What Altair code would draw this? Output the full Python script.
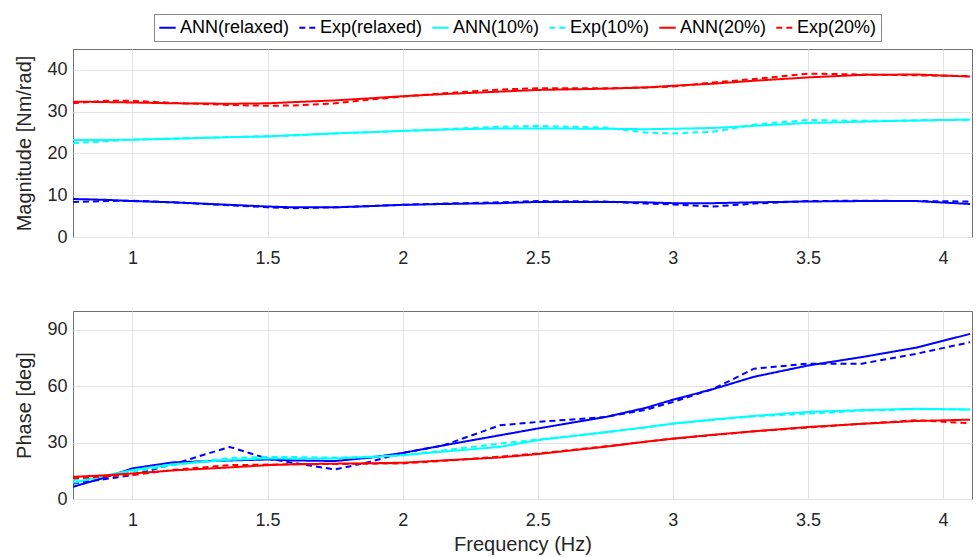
import altair as alt
import pandas as pd

freq = [0.78, 0.9, 1.0, 1.15, 1.36, 1.5, 1.6, 1.75, 1.88, 2.0, 2.15, 2.36, 2.5,
        2.75, 2.9, 3.0, 3.15, 3.3, 3.5, 3.7, 3.9, 4.1]
series_names = ["ANN(relaxed)", "Exp(relaxed)", "ANN(10%)", "Exp(10%)", "ANN(20%)", "Exp(20%)"]

# Magnitude [Nm/rad]
mag_ann_relaxed = [9.1, 8.9, 8.6, 8.3, 7.7, 7.3, 7.1, 7.1, 7.4, 7.7, 7.9, 8.1, 8.4,
                   8.4, 8.3, 8.1, 8.1, 8.3, 8.5, 8.6, 8.6, 7.9]
mag_exp_relaxed = [8.4, 8.6, 8.7, 8.3, 7.6, 7.1, 6.9, 7.1, 7.4, 7.7, 8.0, 8.3, 8.6,
                   8.5, 8.0, 7.8, 7.3, 8.0, 8.6, 8.7, 8.6, 8.5]
mag_ann_10 = [23.2, 23.2, 23.3, 23.5, 23.9, 24.1, 24.4, 24.8, 25.1, 25.4, 25.7, 26.0, 26.0,
              25.9, 25.8, 25.9, 26.1, 26.6, 27.3, 27.6, 27.9, 28.1]
mag_exp_10 = [22.5, 22.9, 23.3, 23.6, 23.9, 24.1, 24.3, 24.8, 25.1, 25.4, 25.8, 26.4, 26.6,
              26.2, 25.0, 24.8, 25.2, 26.9, 28.0, 27.8, 27.9, 28.1]
mag_ann_20 = [32.4, 32.3, 32.2, 32.0, 31.9, 32.0, 32.3, 32.7, 33.2, 33.7, 34.2, 34.8, 35.2,
              35.5, 35.8, 36.2, 36.7, 37.4, 38.2, 38.8, 38.9, 38.4]
mag_exp_20 = [32.0, 32.6, 32.6, 32.1, 31.6, 31.4, 31.5, 32.0, 32.9, 33.6, 34.4, 35.3, 35.6,
              35.6, 35.8, 36.0, 37.0, 37.8, 39.1, 38.9, 38.7, 38.5]

# Phase [deg]
ph_ann_relaxed = [6.5, 11.5, 16.3, 19.5, 20.5, 21.0, 20.5, 20.2, 22.0, 24.5, 28.5, 33.9, 37.5,
                  43.6, 48.5, 52.8, 58.5, 65.0, 71.0, 75.5, 80.5, 87.8]
ph_exp_relaxed = [8.3, 10.6, 12.7, 18.5, 27.7, 21.5, 19.1, 15.7, 19.8, 24.5, 28.5, 39.2, 41.0,
                  43.6, 47.5, 51.6, 58.6, 69.3, 72.0, 72.0, 77.2, 83.4]
ph_ann_10 = [8.6, 12.5, 15.4, 18.5, 20.8, 21.6, 21.6, 21.6, 22.3, 23.3, 25.2, 27.7, 31.3,
             35.5, 38.2, 40.1, 42.3, 44.2, 46.3, 47.3, 48.0, 47.6]
ph_exp_10 = [10.0, 12.5, 14.5, 18.0, 21.8, 22.4, 22.3, 22.0, 22.5, 23.3, 25.8, 29.5, 31.6,
             35.5, 38.0, 40.1, 42.0, 44.0, 45.4, 47.0, 47.8, 47.6]
ph_ann_20 = [11.8, 12.6, 13.6, 15.2, 16.8, 18.0, 18.5, 18.8, 19.0, 19.3, 20.5, 22.1, 23.9,
             27.8, 30.5, 32.1, 34.2, 36.0, 38.3, 40.0, 41.5, 42.2]
ph_exp_20 = [11.0, 12.0, 12.7, 15.5, 18.0, 18.3, 18.5, 18.6, 18.8, 18.9, 20.3, 22.5, 24.2,
             28.0, 30.5, 32.1, 34.0, 36.0, 38.0, 40.0, 41.9, 40.3]

x_ticks = [1, 1.5, 2, 2.5, 3, 3.5, 4]
mag_ticks = [0, 10, 20, 30, 40]
ph_ticks = [0, 30, 60, 90]

mag_series = [mag_ann_relaxed, mag_exp_relaxed, mag_ann_10, mag_exp_10, mag_ann_20, mag_exp_20]
ph_series = [ph_ann_relaxed, ph_exp_relaxed, ph_ann_10, ph_exp_10, ph_ann_20, ph_exp_20]


def long_df(series_list):
    rows = []
    for name, vals in zip(series_names, series_list):
        for f, v in zip(freq, vals):
            rows.append({"freq": f, "value": v, "series": name})
    return pd.DataFrame(rows)


mag_df = long_df(mag_series)
ph_df = long_df(ph_series)

color_scale = alt.Scale(domain=series_names,
                        range=["#0000ff", "#0000ff", "#00ffff", "#00ffff", "#ff0000", "#ff0000"])
dash_scale = alt.Scale(domain=series_names,
                       range=[[1, 0], [6, 4], [1, 0], [6, 4], [1, 0], [6, 4]])

legend = alt.Legend(
    title=None, orient="none", legendX=81, legendY=-35, direction="horizontal",
    columns=6, symbolType="stroke", symbolSize=270, symbolStrokeWidth=2,
    labelFontSize=18, labelFont="Liberation Sans", labelColor="#000000",
    strokeColor="#888888", fillColor="white", padding=4, columnPadding=5,
    labelOffset=3, symbolOffset=0,
)


def panel(df, domain, ticks, ytitle, xtitle):
    xe = alt.X("freq:Q",
               scale=alt.Scale(domain=[0.78, 4.107], nice=False, zero=False),
               axis=alt.Axis(values=x_ticks, format="~g", title=xtitle, labelPadding=12,
                             titlePadding=5))
    return alt.Chart(df).mark_line(strokeWidth=2, clip=True).encode(
        x=xe,
        y=alt.Y("value:Q", scale=alt.Scale(domain=domain, nice=False),
                axis=alt.Axis(values=ticks, title=ytitle, labelPadding=6, titlePadding=12)),
        color=alt.Color("series:N", scale=color_scale, legend=legend),
        strokeDash=alt.StrokeDash("series:N", scale=dash_scale, legend=legend),
    ).properties(width=899, height=188)


top = panel(mag_df, [0, 45], mag_ticks, "Magnitude [Nm/rad]", None)
bottom = panel(ph_df, [0, 100], ph_ticks, "Phase [deg]", "Frequency (Hz)")

chart = alt.vconcat(top, bottom, spacing=42).properties(
    padding={"left": 14, "top": 13, "right": 5, "bottom": 2},
    background="white",
).configure_view(
    stroke="#707070", strokeWidth=1
).configure_axis(
    grid=True, gridColor="#e3e3e3", gridWidth=1, domain=False, ticks=False,
    labelFont="Liberation Sans", titleFont="Liberation Sans", labelFontSize=18,
    titleFontSize=20, titleFontWeight="normal", labelColor="#262626", titleColor="#262626",
)

chart.save("out.html", embed_options={"renderer": "svg", "actions": False})
